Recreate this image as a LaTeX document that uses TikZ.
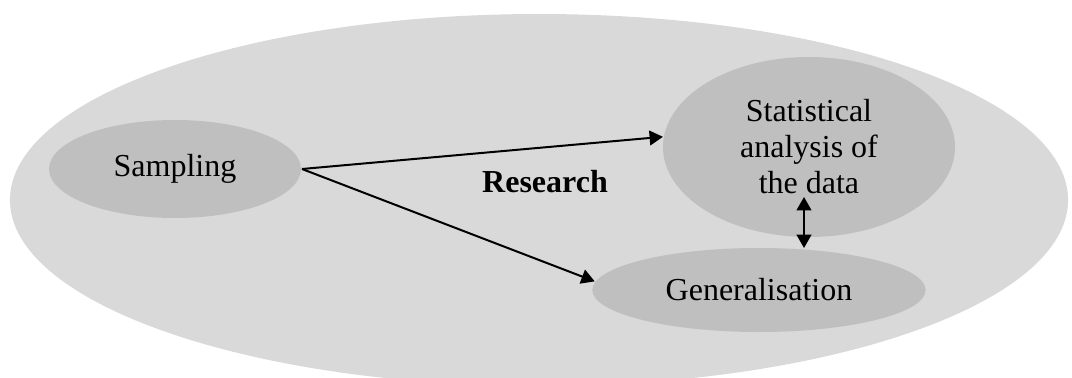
\documentclass[tikz,border=0pt]{standalone}
\usepackage{fontspec}
\setmainfont{Liberation Serif}
\usetikzlibrary{shapes.geometric,arrows.meta}

\begin{document}
\begin{tikzpicture}[x=0.375pt, y=-0.375pt, >={Triangle[length=5pt,width=5.5pt]}]
    \tikzstyle{stage} = [ellipse, fill=gray!50, inner sep=0pt, align=center,
	font=\fontsize{12pt}{13.5pt}\selectfont]

	\useasboundingbox (0,0) rectangle (1072,378);
	\fill[gray!30] (539,200) ellipse [x radius=198.4pt, y radius=69.75pt];

	\begin{scope}
		\path[-, line width=0.75pt]
			node[stage, minimum width=94.5pt, minimum height=36.75pt] (sampling) at (175,169) {Sampling}
			node[stage, minimum width=109.5pt, minimum height=67.5pt] (stat) at (809,147)
				{Statistical\\analysis of\\the data}
			node[stage, minimum width=125pt, minimum height=31.5pt] (gen) at (759,290) {Generalisation}
			node[font=\fontsize{12pt}{13.5pt}\selectfont\bfseries] (research) at (545,182) {Research}

			coordinate (datalow) at (804,197)
			coordinate (gentop) at (804,248)

			(sampling.east) edge[->] (stat.176)
			(sampling.east) edge[->] (gen.177)

			(datalow) edge[<->] (gentop)
		;
	\end{scope}
\end{tikzpicture}
\end{document}
